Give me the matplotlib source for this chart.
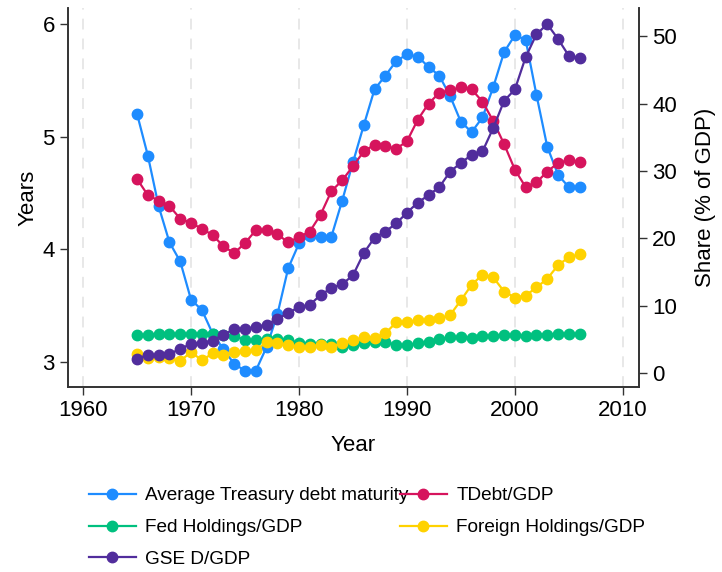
import matplotlib
matplotlib.use('Agg')
import matplotlib.pyplot as plt

plt.rcParams['font.family'] = ['Liberation Sans', 'DejaVu Sans']

years = list(range(1965, 2007))

# Average Treasury debt maturity (years, left axis)
maturity = [5.20, 4.83, 4.38, 4.06, 3.89, 3.55, 3.46, 3.25, 3.11, 2.98,
            2.92, 2.92, 3.13, 3.42, 3.83, 4.05, 4.12, 4.11, 4.11, 4.43,
            4.77, 5.10, 5.42, 5.54, 5.67, 5.73, 5.71, 5.62, 5.54, 5.36,
            5.13, 5.04, 5.17, 5.44, 5.75, 5.90, 5.86, 5.37, 4.91, 4.66,
            4.55, 4.55]

# shares of GDP (percent, right axis)
tdebt = [28.8, 26.4, 25.6, 24.8, 22.9, 22.3, 21.4, 20.5, 18.8, 17.8,
         19.3, 21.2, 21.2, 20.6, 19.4, 20.2, 21.0, 23.5, 27.0, 28.6,
         30.7, 32.9, 33.9, 33.7, 33.3, 34.4, 37.6, 40.0, 41.6, 42.0,
         42.4, 42.1, 40.3, 37.4, 34.0, 30.2, 27.6, 28.3, 29.9, 31.2,
         31.6, 31.3]
fed = [5.7, 5.6, 5.8, 5.8, 5.8, 5.8, 5.8, 5.8, 5.7, 5.5,
       4.9, 4.9, 5.1, 5.1, 4.9, 4.5, 4.3, 4.3, 4.3, 3.9,
       4.2, 4.4, 4.6, 4.6, 4.2, 4.1, 4.4, 4.6, 5.0, 5.3,
       5.3, 5.2, 5.5, 5.5, 5.6, 5.6, 5.5, 5.7, 5.7, 5.8,
       5.8, 5.8]
foreign = [2.8, 2.3, 2.4, 2.2, 1.8, 3.1, 1.9, 2.9, 2.7, 3.1,
           3.2, 3.4, 4.6, 4.4, 4.1, 3.8, 3.9, 4.2, 3.9, 4.4,
           4.9, 5.3, 5.2, 5.9, 7.5, 7.5, 7.8, 7.9, 8.1, 8.6,
           10.8, 13.1, 14.6, 14.2, 12.1, 11.2, 11.5, 12.7, 14.0, 16.0,
           17.2, 17.6]
gse = [2.1, 2.7, 2.6, 2.8, 3.6, 4.3, 4.5, 4.8, 5.7, 6.5,
       6.6, 6.8, 7.2, 8.0, 8.9, 9.8, 10.1, 11.6, 12.6, 13.2,
       14.5, 17.8, 20.1, 21.0, 22.2, 23.8, 25.3, 26.4, 27.6, 29.9,
       31.2, 32.4, 32.9, 36.4, 40.4, 42.1, 46.9, 50.3, 51.8, 49.6,
       47.1, 46.8]

c_blue = '#1e8cff'
c_red = '#d6145d'
c_green = '#00c07f'
c_yellow = '#ffd200'
c_purple = '#512d9c'

fig = plt.figure(figsize=(7.22, 5.72), dpi=100)
ax = fig.add_axes([68 / 722, 1 - 387 / 572, (639 - 68) / 722, (387 - 8) / 572])
ax2 = ax.twinx()

for yr in range(1960, 2011, 10):
    ax.axvline(yr, color='#e6e6e6', lw=1.3, dashes=(6, 5), zorder=0)

mk = dict(marker='o', markersize=7.5, lw=1.6)
l1, = ax.plot(years, maturity, color=c_blue, label='Average Treasury debt maturity', **mk)
l2, = ax2.plot(years, tdebt, color=c_red, label='TDebt/GDP', **mk)
l3, = ax2.plot(years, fed, color=c_green, label='Fed Holdings/GDP', **mk)
l4, = ax2.plot(years, foreign, color=c_yellow, label='Foreign Holdings/GDP', **mk)
l5, = ax2.plot(years, gse, color=c_purple, label='GSE D/GDP', **mk)

ax.set_xlim(1958.6, 2011.5)
ax.set_ylim(2.775, 6.142)
ax2.set_ylim(-2.08, 54.2)
ax.set_xticks(range(1960, 2011, 10))
ax.set_yticks([3, 4, 5, 6])
ax2.set_yticks(range(0, 51, 10))

for a in (ax, ax2):
    a.spines['top'].set_visible(False)
    for s in a.spines.values():
        s.set_linewidth(1.2)
        s.set_color('#333333')
    a.tick_params(labelsize=16, length=6, width=1.0, color='#333333')

ax.set_xlabel('Year', fontsize=16, labelpad=10)
ax.set_ylabel('Years', fontsize=16, labelpad=3)
ax2.set_ylabel('Share (% of GDP)', fontsize=16, labelpad=13)

fig.legend(handles=[l1, l3, l5, l2, l4], ncol=2, frameon=False,
           loc='upper left', bbox_to_anchor=(72 / 722, 1 - 470 / 572),
           fontsize=13.7, handlelength=2.45, handletextpad=0.5,
           columnspacing=-0.45, labelspacing=0.76)

fig.savefig('out.png', dpi=100)
